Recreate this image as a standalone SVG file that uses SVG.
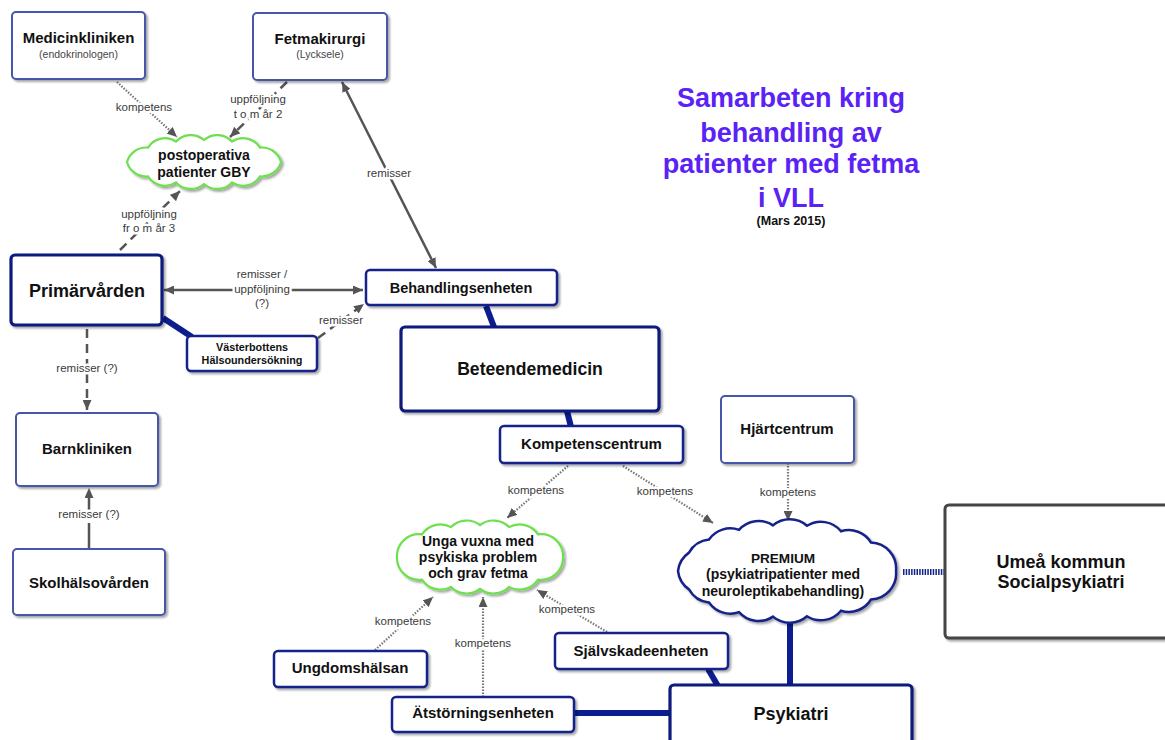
<svg xmlns="http://www.w3.org/2000/svg" width="1165" height="740" viewBox="0 0 1165 740">
<style>
text{font-family:"Liberation Sans",Arial,sans-serif;}
.t{font-weight:bold;fill:#111;text-anchor:middle;}
.sub{fill:#444;text-anchor:middle;font-size:10.5px;}
.b1{fill:#fff;stroke:#4656a8;stroke-width:2;}
.b2{fill:#fff;stroke:#15248a;stroke-width:2.5;}
.b3{fill:#fff;stroke:#0d1a7c;stroke-width:3.2;}
.cg{fill:#fff;stroke:#6ee04e;stroke-width:2.2;}
.cb{fill:#fff;stroke:#15248a;stroke-width:2.5;}
.lbl{font-size:11.5px;fill:#3a3a3a;text-anchor:middle;stroke:#fff;stroke-width:5;paint-order:stroke;stroke-linejoin:round;}
.solid{stroke:#555;stroke-width:2.5;fill:none;}
.dash{stroke:#555;stroke-width:2.5;fill:none;stroke-dasharray:9,6;}
.dot{stroke:#777;stroke-width:2.2;fill:none;stroke-dasharray:1.5,1.5;}
.thick{stroke:#0b1d8f;stroke-width:6;fill:none;}
.hatch{stroke:#15248a;stroke-width:6;fill:none;stroke-dasharray:1.5,1.2;}
.title{font-weight:bold;fill:#5a22f5;text-anchor:middle;font-size:27px;}
</style>
<defs>
<filter id="sh" x="-10%" y="-10%" width="130%" height="140%"><feDropShadow dx="2" dy="2" stdDeviation="1.2" flood-color="#000" flood-opacity="0.35"/></filter>
<marker id="ah" markerUnits="userSpaceOnUse" markerWidth="11" markerHeight="9" refX="10" refY="4.5" orient="auto-start-reverse"><path d="M0,0 L10,4.5 L0,9 z" fill="#555"/></marker>
</defs>

<g id="connectors">
<line class="dot" x1="117" y1="82" x2="177" y2="137" marker-end="url(#ah)"/>
<line class="dash" x1="287" y1="82" x2="230" y2="137" marker-end="url(#ah)"/>
<line class="dash" x1="120" y1="250" x2="180" y2="191" marker-end="url(#ah)"/>
<line class="solid" x1="342" y1="82" x2="436" y2="268" marker-start="url(#ah)" marker-end="url(#ah)"/>
<line class="solid" x1="164" y1="290" x2="363" y2="290" marker-start="url(#ah)" marker-end="url(#ah)"/>
<line class="dash" x1="318" y1="338" x2="364" y2="304" marker-end="url(#ah)"/>
<line class="thick" x1="163" y1="318" x2="192" y2="337"/>
<line class="dash" x1="87" y1="329" x2="87" y2="410" marker-end="url(#ah)"/>
<line class="dash" style="stroke-dasharray:26,6" x1="89" y1="549" x2="89" y2="488" marker-end="url(#ah)"/>
<line class="thick" x1="486" y1="306" x2="494" y2="327"/>
<line class="thick" x1="567" y1="411" x2="571" y2="427"/>
<line class="dot" x1="568" y1="466" x2="507" y2="518" marker-end="url(#ah)"/>
<line class="dot" x1="623" y1="466" x2="713" y2="523" marker-end="url(#ah)"/>
<line class="dot" x1="788" y1="463" x2="788" y2="521" marker-end="url(#ah)"/>
<line class="hatch" x1="903" y1="572" x2="945" y2="572"/>
<line class="thick" x1="790" y1="622" x2="790" y2="686"/>
<line class="dot" x1="375" y1="650" x2="433" y2="597" marker-end="url(#ah)"/>
<line class="dot" x1="483" y1="697" x2="483" y2="597" marker-end="url(#ah)"/>
<line class="dot" x1="607" y1="632" x2="537" y2="590" marker-end="url(#ah)"/>
<line class="thick" x1="708" y1="669" x2="718" y2="686"/>
<line class="thick" x1="574" y1="713" x2="671" y2="713"/>
</g>

<g id="labels">
<text class="lbl" x="144" y="111">kompetens</text>
<text class="lbl" x="258" y="103">uppföljning</text>
<text class="lbl" x="258" y="118">t o m år 2</text>
<text class="lbl" x="149" y="218">uppföljning</text>
<text class="lbl" x="149" y="232">fr o m år 3</text>
<text class="lbl" x="389" y="177">remisser</text>
<text class="lbl" x="262" y="278">remisser /</text>
<text class="lbl" x="262" y="293">uppföljning</text>
<text class="lbl" x="262" y="307">(?)</text>
<text class="lbl" x="341" y="324">remisser</text>
<text class="lbl" x="87" y="372">remisser (?)</text>
<text class="lbl" x="89" y="518">remisser (?)</text>
<text class="lbl" x="536" y="494">kompetens</text>
<text class="lbl" x="665" y="495">kompetens</text>
<text class="lbl" x="788" y="496">kompetens</text>
<text class="lbl" x="403" y="625">kompetens</text>
<text class="lbl" x="483" y="647">kompetens</text>
<text class="lbl" x="567" y="613">kompetens</text>
</g>

<g id="title">
<text class="title" x="791" y="107">Samarbeten kring</text>
<text class="title" x="791" y="142">behandling av</text>
<text class="title" x="791" y="173">patienter med fetma</text>
<text class="title" x="791" y="207">i VLL</text>
<text x="791" y="225" style="font-weight:bold;font-size:12.5px;fill:#111;text-anchor:middle">(Mars 2015)</text>
</g>

<g id="medicinkliniken">
<rect class="b1" x="12" y="12" width="133" height="67" rx="4" filter="url(#sh)"/>
<text class="t" x="78.5" y="43" font-size="15">Medicinkliniken</text>
<text class="sub" x="78.5" y="58">(endokrinologen)</text>
</g>
<g id="fetmakirurgi">
<rect class="b1" x="253" y="13" width="134" height="67" rx="4" filter="url(#sh)"/>
<text class="t" x="320" y="44" font-size="15">Fetmakirurgi</text>
<text class="sub" x="320" y="58">(Lycksele)</text>
</g>
<g id="postoperativa">
<path class="cg" filter="url(#sh)" d="M281,162 A20,20 0 0 1 260,176.4 A20,20 0 0 1 232,182.4 A20,20 0 0 1 204,184 A20,20 0 0 1 176,182.4 A20,20 0 0 1 148,176.4 A20,20 0 0 1 127,162 A20,20 0 0 1 148,147.6 A20,20 0 0 1 176,141.6 A20,20 0 0 1 204,140 A20,20 0 0 1 232,141.6 A20,20 0 0 1 260,147.6 A20,20 0 0 1 281,162 Z"/>
<text class="t" x="204" y="160" font-size="14">postoperativa</text>
<text class="t" x="204" y="177" font-size="14">patienter GBY</text>
</g>
<g id="primarvarden">
<rect class="b3" x="11" y="255" width="151" height="70" rx="4" filter="url(#sh)"/>
<text class="t" x="87" y="297" font-size="18">Primärvården</text>
</g>
<g id="vasterbottens">
<rect class="b2" x="187" y="336" width="130" height="35" rx="4" filter="url(#sh)"/>
<text class="t" x="252" y="351" font-size="10.8">Västerbottens</text>
<text class="t" x="252" y="364" font-size="10.8">Hälsoundersökning</text>
</g>
<g id="behandlingsenheten">
<rect class="b2" x="366" y="270" width="191" height="35" rx="4" filter="url(#sh)"/>
<text class="t" x="461" y="293" font-size="14.5">Behandlingsenheten</text>
</g>
<g id="beteendemedicin">
<rect class="b3" x="401" y="327" width="258" height="84" rx="4" filter="url(#sh)"/>
<text class="t" x="530" y="375" font-size="17.6">Beteendemedicin</text>
</g>
<g id="kompetenscentrum">
<rect class="b2" x="500" y="426" width="183" height="37" rx="4" filter="url(#sh)"/>
<text class="t" x="591.5" y="449" font-size="15">Kompetenscentrum</text>
</g>
<g id="hjartcentrum">
<rect class="b1" x="721" y="396" width="133" height="67" rx="4" filter="url(#sh)"/>
<text class="t" x="787" y="434" font-size="15">Hjärtcentrum</text>
</g>
<g id="barnkliniken">
<rect class="b1" x="16" y="413" width="142" height="73" rx="4" filter="url(#sh)"/>
<text class="t" x="87" y="454" font-size="15">Barnkliniken</text>
</g>
<g id="skolhalsovarden">
<rect class="b1" x="13" y="549" width="152" height="66" rx="4" filter="url(#sh)"/>
<text class="t" x="89" y="588" font-size="15">Skolhälsovården</text>
</g>
<g id="ungavuxna">
<path class="cg" filter="url(#sh)" d="M563,557 A22,22 0 0 1 538,579.6 A22,22 0 0 1 509,586.9 A22,22 0 0 1 480,589 A22,22 0 0 1 451,586.9 A22,22 0 0 1 422,579.6 A22,22 0 0 1 397,557 A22,22 0 0 1 422,534.4 A22,22 0 0 1 451,527.1 A22,22 0 0 1 480,525 A22,22 0 0 1 509,527.1 A22,22 0 0 1 538,534.4 A22,22 0 0 1 563,557 Z"/>
<text class="t" x="478" y="546" font-size="14">Unga vuxna med</text>
<text class="t" x="478" y="562" font-size="14">psykiska problem</text>
<text class="t" x="478" y="578" font-size="14">och grav fetma</text>
</g>
<g id="premium">
<path class="cb" filter="url(#sh)" d="M896,571 A26,26 0 0 1 871,599.5 A26,26 0 0 1 841,610.7 A26,26 0 0 1 807,616.2 A26,26 0 0 1 773,616.6 A26,26 0 0 1 739,612.1 A26,26 0 0 1 709,602.5 A26,26 0 0 1 689,589.4 A26,26 0 0 1 678,571 A26,26 0 0 1 689,552.6 A26,26 0 0 1 709,539.5 A26,26 0 0 1 739,529.9 A26,26 0 0 1 773,525.4 A26,26 0 0 1 807,525.8 A26,26 0 0 1 841,531.3 A26,26 0 0 1 871,542.5 A26,26 0 0 1 896,571 Z"/>
<text class="t" x="783" y="563" font-size="13.6">PREMIUM</text>
<text class="t" x="783" y="579" font-size="14">(psykiatripatienter med</text>
<text class="t" x="783" y="596" font-size="14">neuroleptikabehandling)</text>
</g>
<g id="umea">
<rect x="945" y="505" width="240" height="133" rx="4" fill="#fff" stroke="#444" stroke-width="3" filter="url(#sh)"/>
<text class="t" x="1061" y="568" font-size="18">Umeå kommun</text>
<text class="t" x="1061" y="588" font-size="18">Socialpsykiatri</text>
</g>
<g id="ungdomshalsan">
<rect class="b2" x="274" y="651" width="153" height="36" rx="4" filter="url(#sh)"/>
<text class="t" x="350" y="673" font-size="15">Ungdomshälsan</text>
</g>
<g id="sjalvskadeenheten">
<rect class="b2" x="555" y="633" width="173" height="36" rx="4" filter="url(#sh)"/>
<text class="t" x="641" y="656" font-size="15">Självskadeenheten</text>
</g>
<g id="atstorningsenheten">
<rect class="b2" x="392" y="697" width="182" height="35" rx="4" filter="url(#sh)"/>
<text class="t" x="483" y="718" font-size="15">Ätstörningsenheten</text>
</g>
<g id="psykiatri">
<rect class="b3" x="670" y="685" width="242" height="80" rx="4" filter="url(#sh)"/>
<text class="t" x="791" y="720" font-size="18">Psykiatri</text>
</g>
</svg>
